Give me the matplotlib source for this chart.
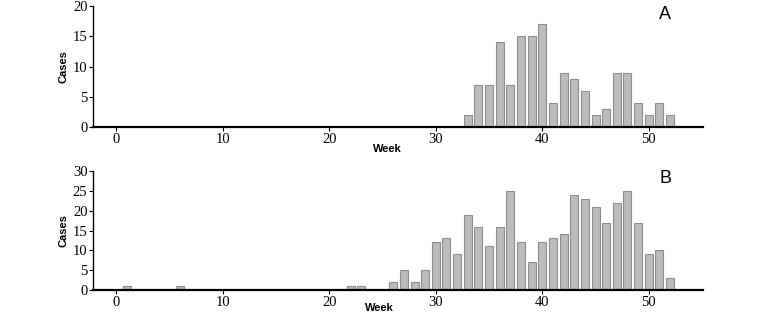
import matplotlib.pyplot as plt
import numpy as np

weeks = np.arange(0, 53)

# panel A: cases per week, weeks 33-52 (others zero)
cases_a = [0] * 33 + [2, 7, 7, 14, 7, 15, 15, 17, 4, 9, 8, 6, 2, 3, 9, 9, 4, 2, 4, 2]

# panel B
cases_b = [0, 1, 0, 0, 0, 0, 1] + [0] * 15 + [1, 1, 0, 0, 2, 5, 2, 5,
           12, 13, 9, 19, 16, 11, 16, 25, 12, 7, 12, 13, 14, 24, 23, 21,
           17, 22, 25, 17, 9, 10, 3]

x_ticks = [0, 10, 20, 30, 40, 50]
serif = 'Liberation Serif'
sans = 'Liberation Sans'

fig = plt.figure(figsize=(7.65, 3.27), dpi=100)
ax_a = fig.add_axes([0.1216, 0.6116, 0.7974, 0.370])
ax_b = fig.add_axes([0.1216, 0.1131, 0.7974, 0.364])


def style(ax, data, ymax, yticks, label, week_xy, label_y):
    ax.bar(weeks, data, width=0.75, color='#bcbcbc', edgecolor='#8f8f8f',
           linewidth=0.8)
    ax.set_xlim(-2.2, 55.1)
    ax.set_ylim(0, ymax)
    ax.set_xticks(x_ticks)
    ax.set_yticks(yticks)
    for s in ['top', 'right']:
        ax.spines[s].set_visible(False)
    ax.spines['left'].set_linewidth(1.0)
    ax.spines['bottom'].set_linewidth(1.6)
    ax.tick_params(direction='out', length=3, width=0.8, pad=1, labelsize=10.5)
    for t in ax.get_xticklabels() + ax.get_yticklabels():
        t.set_fontfamily(serif)
    ax.set_ylabel('Cases', fontsize=8, fontweight='bold', family=sans, labelpad=3)
    ax.set_xlabel('Week', fontsize=8, fontweight='bold', family=sans, va='center')
    ax.xaxis.set_label_coords(*week_xy)
    ax.text(0.938, label_y, label, transform=ax.transAxes, fontsize=13,
            family=sans, ha='center', va='center')


style(ax_a, cases_a, 20, [0, 5, 10, 15, 20], 'A', (0.482, -0.182), 0.934)
style(ax_b, cases_b, 30, [0, 5, 10, 15, 20, 25, 30], 'B', (0.470, -0.151), 0.941)

plt.savefig('out.png', dpi=100)
plt.close('all')
